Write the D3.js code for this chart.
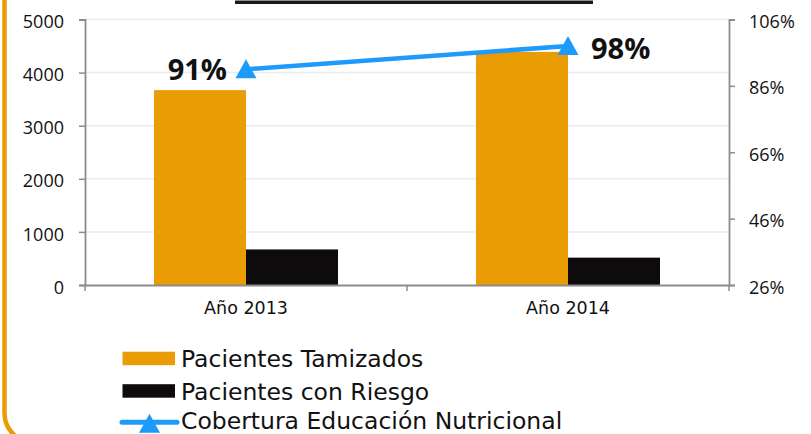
<!DOCTYPE html>
<html><head><meta charset="utf-8">
<script src="https://cdn.jsdelivr.net/npm/d3@7"></script>
<style>
html,body{margin:0;padding:0;background:#fff;}
svg{display:block;}
</style></head>
<body>
<svg id="chart" width="811" height="434"></svg>
<script>
const categories = ["Año 2013", "Año 2014"];
const seriesNames = ["Pacientes Tamizados", "Pacientes con Riesgo"];
const tamizados = [3670, 4390];
const conRiesgo = [670, 515];
const cobertura = [0.91, 0.98];
const coberturaLabels = ["91%", "98%"];
const leftTicks = [0, 1000, 2000, 3000, 4000, 5000];
const rightTicks = [0.26, 0.46, 0.66, 0.86, 1.06];
const legendNames = ["Pacientes Tamizados", "Pacientes con Riesgo", "Cobertura Educación Nutricional"];

const colors = {orange: "#E99C04", black: "#0D0B0C", blue: "#1E9BFA", axis: "#8c8c8c", grid: "#ececec"};
const svg = d3.select("#chart");
const L = 85, R = 729, T = 19.5, B = 285;

// frame decoration
svg.append("rect").attr("x", 4.5).attr("y", -60).attr("width", 1000).attr("height", 503)
  .attr("rx", 30).attr("fill", "none").attr("stroke", colors.orange).attr("stroke-width", 4.5);
svg.append("rect").attr("x", 235).attr("y", 0.5).attr("width", 358).attr("height", 3.5).attr("fill", "#1a1a1a");

const x0 = d3.scaleBand().domain(categories).range([L, R]).padding(0);
const x1 = d3.scaleBand().domain(seriesNames).range([0, x0.bandwidth()]).paddingInner(0).paddingOuter(0.75);
const y = d3.scaleLinear().domain([0, 5000]).range([B, T]);
const y2 = d3.scaleLinear().domain([0.26, 1.06]).range([B, T]);

// gridlines
svg.append("g").selectAll("line").data(leftTicks.filter(d => d > 0)).join("line")
  .attr("x1", L).attr("x2", R).attr("y1", d => y(d)).attr("y2", d => y(d))
  .attr("stroke", colors.grid).attr("stroke-width", 1.5);

// bars
const data = categories.map((c, i) => ({cat: c, vals: [tamizados[i], conRiesgo[i]]}));
const barColors = [colors.orange, colors.black];
const g = svg.append("g");
data.forEach(d => {
  d.vals.forEach((v, j) => {
    g.append("rect").attr("x", x0(d.cat) + x1(seriesNames[j])).attr("width", x1.bandwidth())
      .attr("y", y(v)).attr("height", B - y(v)).attr("fill", barColors[j]);
  });
});

// axes
const fontTick = "'Open Sans', sans-serif";
const leftAxis = svg.append("g").attr("transform", `translate(${L},0)`)
  .call(d3.axisLeft(y).tickValues(leftTicks).tickSize(6).tickPadding(15).tickFormat(d3.format("d")));
const rightAxis = svg.append("g").attr("transform", `translate(${R},0)`)
  .call(d3.axisRight(y2).tickValues(rightTicks).tickSize(6).tickPadding(14).tickFormat(d => Math.round(d * 100) + "%"));
const bottomAxis = svg.append("g").attr("transform", `translate(0,${B})`)
  .call(d3.axisBottom(x0).tickSize(0).tickPadding(17));
[leftAxis, rightAxis, bottomAxis].forEach(a => {
  a.select(".domain").attr("stroke", colors.axis).attr("stroke-width", 1.8);
  a.selectAll(".tick line").attr("stroke", colors.axis).attr("stroke-width", 1.5);
  a.selectAll("text").attr("fill", "#111");
});
leftAxis.selectAll("text").style("font-family", fontTick).style("font-size", "18px").attr("dy", "0.45em");
rightAxis.selectAll("text").style("font-family", fontTick).style("font-size", "18px").attr("dy", "0.45em");
bottomAxis.selectAll("text").style("font-family", "'DejaVu Sans', sans-serif").style("font-size", "17.5px");
// bottom tick marks at band boundaries
const bounds = [L].concat(categories.map(c => x0(c) + x0.bandwidth()));
bottomAxis.selectAll(".bt").data(bounds).join("line").attr("class", "bt")
  .attr("x1", d => d).attr("x2", d => d).attr("y1", 0).attr("y2", 6)
  .attr("stroke", colors.axis).attr("stroke-width", 1.5);

// line series
const cx = c => x0(c) + x0.bandwidth() / 2;
const pts = categories.map((c, i) => [cx(c), y2(cobertura[i])]);
svg.append("path").attr("d", d3.line()(pts)).attr("fill", "none")
  .attr("stroke", colors.blue).attr("stroke-width", 4.5);
const tri = (px, py) => `M${px},${py - 10}L${px + 10.5},${py + 9}L${px - 10.5},${py + 9}Z`;
pts.forEach(p => svg.append("path").attr("d", tri(p[0], p[1])).attr("fill", colors.blue));

// value labels
const labFont = "'Open Sans', sans-serif";
svg.append("text").attr("x", pts[0][0] - 19).attr("y", pts[0][1] + 11).attr("text-anchor", "end")
  .style("font-family", labFont).style("font-weight", "bold").style("font-size", "29px").attr("fill", "#111")
  .text(coberturaLabels[0]);
svg.append("text").attr("x", pts[1][0] + 23).attr("y", pts[1][1] + 13).attr("text-anchor", "start")
  .style("font-family", labFont).style("font-weight", "bold").style("font-size", "29px").attr("fill", "#111")
  .text(coberturaLabels[1]);

// legend
const lg = svg.append("g");
const rowY = [358.5, 391, 422.3];
const rowBase = [366.7, 399.8, 428.8];
lg.append("rect").attr("x", 122.5).attr("y", rowY[0] - 6.8).attr("width", 52.5).attr("height", 13.5).attr("fill", colors.orange);
lg.append("rect").attr("x", 122.5).attr("y", rowY[1] - 6.8).attr("width", 52.5).attr("height", 13.5).attr("fill", colors.black);
lg.append("line").attr("x1", 122).attr("x2", 177).attr("y1", rowY[2]).attr("y2", rowY[2])
  .attr("stroke", colors.blue).attr("stroke-width", 5).attr("stroke-linecap", "round");
lg.append("path").attr("d", tri(149.5, rowY[2] + 1.5)).attr("fill", colors.blue);
lg.selectAll("text").data(legendNames).join("text")
  .attr("x", 181).attr("y", (d, i) => rowBase[i])
  .style("font-family", "'DejaVu Sans', sans-serif").style("font-size", "23.5px").attr("fill", "#111")
  .text(d => d);
</script>
</body></html>
